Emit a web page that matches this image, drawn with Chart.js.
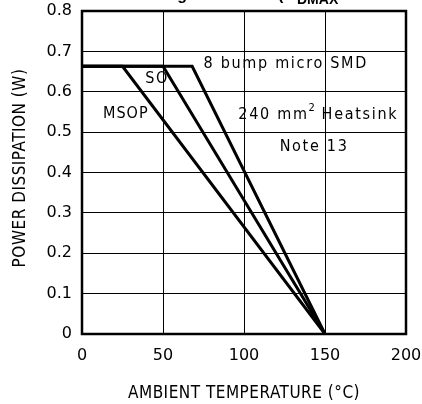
<!DOCTYPE html>
<html lang="en">
<head>
    <meta charset="UTF-8">
    <title>Power Dissipation Derating</title>
    <script src="https://cdn.jsdelivr.net/npm/chart.js"></script>
    <style>
        html, body {
            margin: 0;
            padding: 0;
            background: #ffffff;
        }
        .chart-box {
            position: relative;
            width: 422px;
            height: 404px;
        }
    </style>
</head>
<body>
    <div class="chart-box">
        <canvas id="deratingChart" width="422" height="404"></canvas>
    </div>
    <script>
        // Temperature (deg C) / power (W) breakpoints
        const msopTemp = [0, 25, 150];
        const msopPower = [0.663, 0.663, 0];
        const soTemp = [0, 50, 150];
        const soPower = [0.663, 0.663, 0];
        const smdTemp = [0, 68, 150];
        const smdPower = [0.663, 0.663, 0];

        const xTicks = [0, 50, 100, 150, 200];
        const yTicks = [0, 0.1, 0.2, 0.3, 0.4, 0.5, 0.6, 0.7, 0.8];

        const font = '"DejaVu Sans Condensed", "DejaVu Sans", sans-serif';
        const tickFont = '"DejaVu Sans", sans-serif';
        const titleFont = '"Liberation Sans Narrow", "DejaVu Sans Condensed", sans-serif';

        function toPoints(xs, ys) {
            return xs.map((x, i) => ({ x: x, y: ys[i] }));
        }

        function series(label, xs, ys) {
            return {
                label: label,
                data: toPoints(xs, ys),
                borderColor: '#000',
                borderWidth: 3,
                pointRadius: 0,
                tension: 0,
                borderJoinStyle: 'miter',
                fill: false
            };
        }

        // frame, axis titles, header and in-plot notes
        const decorations = {
            id: 'decorations',
            afterDatasetsDraw(chart) {
                const ctx = chart.ctx;
                const a = chart.chartArea;
                const xs = chart.scales.x;
                const ys = chart.scales.y;
                ctx.save();

                ctx.strokeStyle = '#000';
                ctx.lineWidth = 2.5;
                ctx.strokeRect(a.left, a.top, a.right - a.left, a.bottom - a.top);

                ctx.fillStyle = '#000';
                ctx.textBaseline = 'middle';
                ctx.textAlign = 'left';
                ctx.font = '16px ' + font;
                ctx.letterSpacing = '1.7px';

                const note = (text, tx, py) => {
                    ctx.fillText(text, xs.getPixelForValue(tx), ys.getPixelForValue(py));
                };
                note('8 bump micro SMD', 75, 0.669);
                note('SO', 39, 0.632);
                note('Note 13', 122, 0.463);
                ctx.letterSpacing = '1px';
                note('MSOP', 13, 0.545);
                ctx.letterSpacing = '1.7px';

                // 240 mm^2 Heatsink with superscript
                let px = xs.getPixelForValue(96.5);
                const py = ys.getPixelForValue(0.542);
                ctx.fillText('240 mm', px, py);
                px += ctx.measureText('240 mm').width;
                ctx.font = '11px ' + font;
                ctx.fillText('2', px, py - 7);
                px += ctx.measureText('2').width + 5;
                ctx.font = '16px ' + font;
                ctx.fillText('Heatsink', px, py);

                // axis titles
                ctx.font = '17px ' + titleFont;
                ctx.letterSpacing = '0.5px';
                ctx.textAlign = 'center';
                ctx.fillText('AMBIENT TEMPERATURE (\u00B0C)', (a.left + a.right) / 2, 394);
                ctx.save();
                ctx.translate(21, 168);
                ctx.rotate(-Math.PI / 2);
                ctx.fillText('POWER DISSIPATION (W)', 0, 0);
                ctx.restore();

                // header, cut off at the top edge
                ctx.letterSpacing = '0px';
                ctx.font = 'bold 16px "Liberation Sans", Arial, sans-serif';
                ctx.textBaseline = 'alphabetic';
                ctx.textAlign = 'right';
                ctx.fillText('Power Derating', 187, 0);
                ctx.textAlign = 'left';
                ctx.fillText('(P', 278, 0);
                ctx.font = 'bold 14px "Liberation Sans", Arial, sans-serif';
                ctx.fillText('DMAX', 297, 3.5);

                ctx.restore();
            }
        };

        new Chart(document.getElementById('deratingChart'), {
            type: 'line',
            data: {
                datasets: [
                    series('MSOP', msopTemp, msopPower),
                    series('SO', soTemp, soPower),
                    series('8 bump micro SMD', smdTemp, smdPower)
                ]
            },
            options: {
                responsive: false,
                animation: false,
                layout: { padding: { top: 11, right: 16, left: 0, bottom: 0 } },
                plugins: {
                    legend: { display: false },
                    tooltip: { enabled: false }
                },
                scales: {
                    x: {
                        type: 'linear',
                        min: 0,
                        max: 200,
                        afterBuildTicks: s => { s.ticks = xTicks.map(v => ({ value: v })); },
                        afterFit: s => {
                            s.height = 70;
                            s.paddingLeft = 0;
                            s.paddingRight = 0;
                        },
                        grid: { color: '#000', lineWidth: 1, drawTicks: false },
                        border: { display: false },
                        ticks: {
                            color: '#000',
                            padding: 12,
                            font: { family: tickFont, size: 16 },
                            maxRotation: 0
                        }
                    },
                    y: {
                        type: 'linear',
                        min: 0,
                        max: 0.8,
                        afterBuildTicks: s => { s.ticks = yTicks.map(v => ({ value: v })); },
                        afterFit: s => {
                            s.width = 82;
                            s.paddingTop = 0;
                            s.paddingBottom = 0;
                        },
                        grid: { color: '#000', lineWidth: 1, drawTicks: false },
                        border: { display: false },
                        ticks: {
                            color: '#000',
                            padding: 10,
                            font: { family: tickFont, size: 16 },
                            callback: v => String(Math.round(v * 10) / 10)
                        }
                    }
                }
            },
            plugins: [decorations]
        });
    </script>
</body>
</html>
